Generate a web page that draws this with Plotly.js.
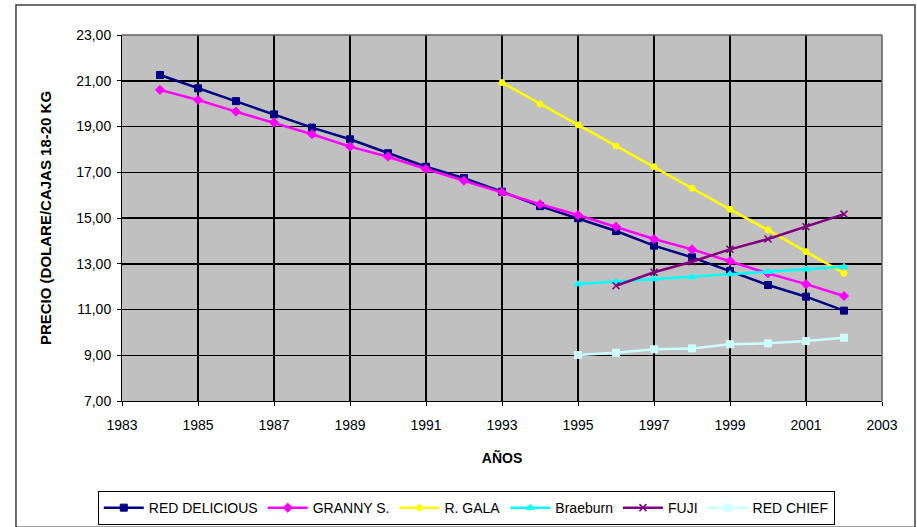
<!DOCTYPE html>
<html>
<head>
<meta charset="utf-8">
<script src="https://cdn.plot.ly/plotly-3.0.1.min.js"></script>
<style>html,body{margin:0;padding:0;background:#fff;}#chart{width:917px;height:527px;}</style>
</head>
<body>
<div id="chart"></div>
<script>
const years = [1984,1985,1986,1987,1988,1989,1990,1991,1992,1993,1994,1995,1996,1997,1998,1999,2000,2001,2002];
const redDelicious = [21.25,20.67,20.11,19.53,18.95,18.44,17.83,17.24,16.74,16.15,15.52,14.99,14.43,13.79,13.28,12.68,12.07,11.56,10.95];
const grannyS = [20.6,20.16,19.65,19.17,18.66,18.12,17.68,17.14,16.63,16.13,15.6,15.13,14.62,14.08,13.63,13.12,12.58,12.11,11.59];
const galaYears = [1993,1994,1995,1996,1997,1998,1999,2000,2001,2002];
const rGala = [20.92,19.98,19.07,18.15,17.24,16.3,15.38,14.48,13.53,12.58];
const braeYears = [1995,1996,1997,1998,1999,2000,2001,2002];
const braeburn = [12.11,12.22,12.33,12.42,12.55,12.65,12.76,12.87];
const fujiYears = [1996,1997,1998,1999,2000,2001,2002];
const fuji = [12.04,12.63,13.09,13.63,14.08,14.62,15.17];
const chiefYears = [1995,1996,1997,1998,1999,2000,2001,2002];
const redChief = [9.01,9.11,9.26,9.30,9.48,9.52,9.62,9.77];
const seriesNames = ['RED DELICIOUS','GRANNY S.','R. GALA','Braeburn','FUJI','RED CHIEF'];

const F = 'Arial, "Liberation Sans", sans-serif';
function tr(name, x, y, color, symbol, size) {
  return {type:'scatter', mode:'lines+markers', name:name, x:x, y:y,
    line:{color:color, width:2.5}, marker:{color:color, symbol:symbol, size:size, line:{color:color, width:1}}};
}
const data = [
  tr(seriesNames[0], years, redDelicious, '#000080', 'square', 7),
  tr(seriesNames[1], years, grannyS, '#FF00FF', 'diamond', 7),
  tr(seriesNames[2], galaYears, rGala, '#FFFF00', 'circle', 6),
  tr(seriesNames[3], braeYears, braeburn, '#00FFFF', 'triangle-up', 7),
  tr(seriesNames[4], fujiYears, fuji, '#800080', 'x-thin-open', 7),
  tr(seriesNames[5], chiefYears, redChief, '#CCFFFF', 'square', 7)
];
data[4].marker.line = {color:'#800080', width:1.5};

const layout = {
  width:917, height:527,
  margin:{l:122, r:35, t:35, b:126, autoexpand:false},
  paper_bgcolor:'#ffffff', plot_bgcolor:'#C0C0C0',
  separators:',.',
  font:{family:F, size:14, color:'#000'},
  showlegend:true,
  legend:{orientation:'h', x:0.453, xanchor:'center', y:-0.246, yanchor:'top',
    bordercolor:'#000', borderwidth:1, bgcolor:'#fff', font:{family:F, size:14, color:'#000'},
    itemwidth:40, tracegroupgap:0},
  xaxis:{range:[1983,2003], dtick:2, tick0:1983, showgrid:true, gridcolor:'#000', gridwidth:1.5,
    zeroline:false, showline:true, linecolor:'#000', linewidth:1, mirror:false, automargin:false,
    ticks:'outside', ticklen:4, tickcolor:'#000', tickfont:{family:F, size:14}, ticklabelstandoff:7,
    title:{text:'<b>AÑOS</b>', font:{family:F, size:14}, standoff:21}},
  yaxis:{range:[7,23], dtick:2, tick0:7, tickformat:'.2f', showgrid:true, gridcolor:'#000', gridwidth:1.5,
    zeroline:false, showline:true, linecolor:'#000', linewidth:1, mirror:false, automargin:false,
    ticks:'outside', ticklen:4, tickcolor:'#000', tickfont:{family:F, size:14}, ticklabelstandoff:3,
    title:{text:'<b>PRECIO (DOLARE/CAJAS 18-20 KG</b>', font:{family:F, size:15}, standoff:20}},
  shapes:[
    {type:'line', xref:'paper', yref:'paper', x0:1, x1:1, y0:0, y1:1, line:{color:'#606060', width:1.5}},
    {type:'line', xref:'paper', yref:'paper', x0:0, x1:1, y0:1, y1:1, line:{color:'#606060', width:1.5}},
    {type:'rect', xref:'paper', yref:'paper', x0:-0.1395, x1:1.0434, y0:-0.345, y1:1.082, line:{color:'#404040', width:1.5}, layer:'below'}
  ]
};
Plotly.newPlot('chart', data, layout, {staticPlot:true});
</script>
</body>
</html>
